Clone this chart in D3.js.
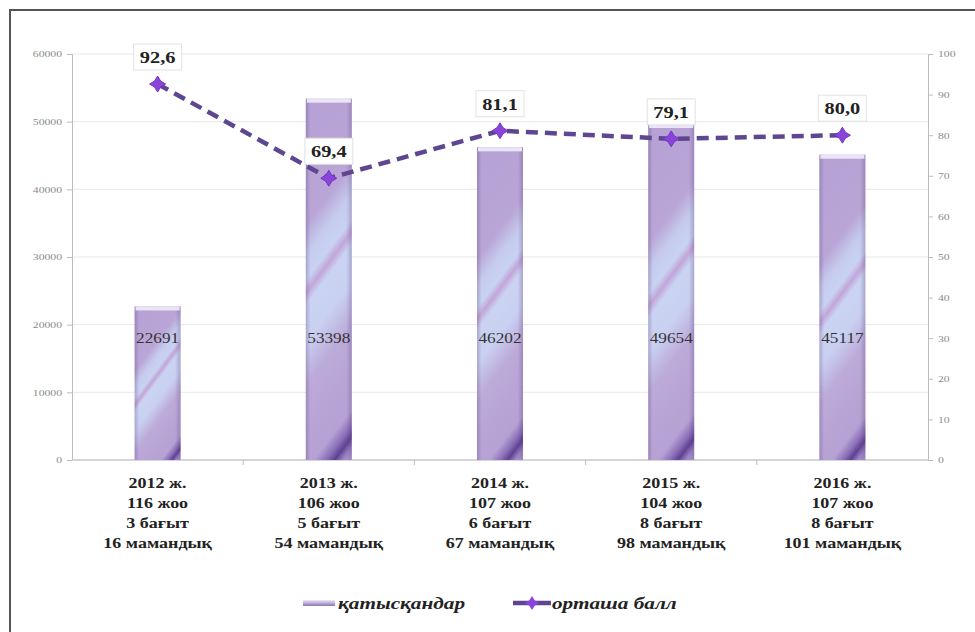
<!DOCTYPE html>
<html>
<head>
<meta charset="utf-8">
<script src="https://cdn.jsdelivr.net/npm/d3@7"></script>
<style>
  body { margin: 0; background: #fff; }
  svg { display: block; font-family: "Liberation Serif", "Times New Roman", serif; }
</style>
</head>
<body>
<script>
// data
var years = ["2012 ж.", "2013 ж.", "2014 ж.", "2015 ж.", "2016 ж."];
var universities = ["116 жоо", "106 жоо", "107 жоо", "104 жоо", "107 жоо"];
var directions = ["3 бағыт", "5 бағыт", "6 бағыт", "8 бағыт", "8 бағыт"];
var specialties = ["16 мамандық", "54 мамандық", "67 мамандық", "98 мамандық", "101 мамандық"];
var participants = [22691, 53398, 46202, 49654, 45117];
var avgScore = [92.6, 69.4, 81.1, 79.1, 80.0];
var leftTicks = [0, 10000, 20000, 30000, 40000, 50000, 60000];
var rightTicks = [0, 10, 20, 30, 40, 50, 60, 70, 80, 90, 100];
var legendNames = ["қатысқандар", "орташа балл"];

var W = 975, H = 632;
var plot = {left: 72, right: 928, top: 54, bottom: 460};
var SX = 1.22; // the source text is drawn wide

var svg = d3.select("body").append("svg")
  .attr("width", W)
  .attr("height", H);

// outer frame
svg.append("rect")
  .attr("x", 10).attr("y", 10)
  .attr("width", W + 20).attr("height", H + 20)
  .style("fill", "none")
  .style("stroke", "#555")
  .style("stroke-width", 2);

var defs = svg.append("defs");

// scales
var x = d3.scaleBand().domain(years).range([plot.left, plot.right]);
var yL = d3.scaleLinear().domain([0, 60000]).range([plot.bottom, plot.top]);
var yR = d3.scaleLinear().domain([0, 100]).range([plot.bottom, plot.top]);
var mid = function(i) { return x(years[i]) + x.bandwidth() / 2; };

// wide text helper: put the text at (px,py) and stretch it
function wide(sel, px, py, sx) {
  sel.attr("x", 0).attr("y", 0)
    .attr("transform", function(d, i) {
      return "translate(" + px(d, i) + "," + py(d, i) + ") scale(" + (sx || SX) + ",1)";
    });
}

// grid lines
svg.append("g").selectAll("line")
  .data(leftTicks.slice(1))
  .enter().append("line")
  .attr("x1", plot.left).attr("x2", plot.right)
  .attr("y1", function(d) { return yL(d); })
  .attr("y2", function(d) { return yL(d); })
  .style("stroke", "#e8e8e8")
  .style("stroke-width", 1);

// axes
function styleAxis(ax, dx) {
  ax.select(".domain").attr("stroke", "#bdbdbd");
  ax.selectAll(".tick line").attr("stroke", "#bdbdbd");
  ax.selectAll("text")
    .attr("fill", "#8a8a8a")
    .attr("x", dx / 1.3)
    .attr("transform", "scale(1.3,1)")
    .style("font-size", "9px")
    .style("font-family", "'Liberation Serif', serif");
}

var axL = svg.append("g")
  .attr("transform", "translate(" + plot.left + ",0)")
  .call(d3.axisLeft(yL).tickValues(leftTicks).tickFormat(d3.format("d")).tickSize(5).tickPadding(5));
styleAxis(axL, -10);

var axR = svg.append("g")
  .attr("transform", "translate(" + plot.right + ",0)")
  .call(d3.axisRight(yR).tickValues(rightTicks).tickFormat(d3.format("d")).tickSize(5).tickPadding(5));
styleAxis(axR, 10);

// bottom axis line with category ticks
var axB = svg.append("g")
  .attr("transform", "translate(0," + plot.bottom + ")");
axB.append("line")
  .attr("x1", plot.left).attr("x2", plot.right)
  .style("stroke", "#c8c8c8").style("stroke-width", 1.5);
axB.selectAll(".ctick")
  .data(years.slice(1))
  .enter().append("line")
  .attr("x1", function(d) { return x(d); })
  .attr("x2", function(d) { return x(d); })
  .attr("y1", 0).attr("y2", 5)
  .style("stroke", "#bdbdbd");

// bars
var barW = 46;
var diagStops = [[0, "#b5a1d3"], [0.3, "#b9a6d7"], [0.37, "#c6cbee"], [0.43, "#c8d2f1"],
  [0.46, "#c2a5da"], [0.49, "#cad4f2"], [0.58, "#c9d0f1"], [0.68, "#bcaad9"],
  [0.88, "#b5a1d3"], [0.92, "#8a6db8"], [0.945, "#5e4190"], [0.97, "#9a82c4"], [1, "#b7a4d5"]];

participants.forEach(function(d, i) {
  var x0 = mid(i) - barW / 2, y0 = yL(d), h = yL(0) - yL(d);
  var L = 0.8 * barW + 0.6 * h;
  var g = defs.append("linearGradient").attr("id", "bar" + i)
    .attr("gradientUnits", "userSpaceOnUse")
    .attr("x1", x0).attr("y1", y0)
    .attr("x2", x0 + 0.8 * L).attr("y2", y0 + 0.6 * L);
  diagStops.forEach(function(s) { g.append("stop").attr("offset", s[0]).attr("stop-color", s[1]); });
});

var gEdge = defs.append("linearGradient").attr("id", "barEdge")
  .attr("x1", 0).attr("y1", 0).attr("x2", 1).attr("y2", 0);
[[0, 0.3], [0.1, 0.0], [0.88, 0.0], [1, 0.3]].forEach(function(s) {
  gEdge.append("stop").attr("offset", s[0]).attr("stop-color", "#5a4080").attr("stop-opacity", s[1]);
});

var gLeg = defs.append("linearGradient").attr("id", "legBar")
  .attr("x1", 0).attr("y1", 0).attr("x2", 0).attr("y2", 1);
gLeg.append("stop").attr("offset", 0).attr("stop-color", "#efe8f8");
gLeg.append("stop").attr("offset", 1).attr("stop-color", "#8d74b8");

var bars = svg.append("g").selectAll("g.bar")
  .data(participants)
  .enter().append("g").attr("class", "bar");

bars.append("rect")
  .attr("x", function(d, i) { return mid(i) - barW / 2; })
  .attr("y", function(d) { return yL(d); })
  .attr("width", barW)
  .attr("height", function(d) { return yL(0) - yL(d); })
  .style("fill", function(d, i) { return "url(#bar" + i + ")"; });

bars.append("rect")
  .attr("x", function(d, i) { return mid(i) - barW / 2; })
  .attr("y", function(d) { return yL(d); })
  .attr("width", barW)
  .attr("height", function(d) { return yL(0) - yL(d); })
  .style("fill", "url(#barEdge)");

// top cap
bars.append("rect")
  .attr("x", function(d, i) { return mid(i) - barW / 2 + 1; })
  .attr("y", function(d) { return yL(d); })
  .attr("width", barW - 2)
  .attr("height", 4)
  .style("fill", "#ebe3f6");

// value labels inside bars
bars.append("text")
  .call(wide, function(d, i) { return mid(i); }, function() { return yL(18000) + 5; }, 1.15)
  .attr("text-anchor", "middle")
  .style("font-size", "15px")
  .style("fill", "#333")
  .text(function(d) { return d; });

// line
var line = d3.line()
  .x(function(d, i) { return mid(i); })
  .y(function(d) { return yR(d); });

svg.append("path")
  .datum(avgScore)
  .attr("d", line)
  .style("fill", "none")
  .style("stroke", "#5f4690")
  .style("stroke-width", 4.5)
  .style("stroke-dasharray", "12,7");

function starPath(s) {
  var k = s * 0.38;
  return "M0,-" + s + "L" + k + ",-" + k + "L" + s + ",0L" + k + "," + k +
    "L0," + s + "L-" + k + "," + k + "L-" + s + ",0L-" + k + ",-" + k + "Z";
}

svg.append("g").selectAll("path")
  .data(avgScore)
  .enter().append("path")
  .attr("transform", function(d, i) { return "translate(" + mid(i) + "," + yR(d) + ")"; })
  .attr("d", starPath(8))
  .style("fill", "#8a44dc")
  .style("stroke", "#7436c4")
  .style("stroke-width", 1);

// line labels
var fmt = function(d) { return d.toFixed(1).replace(".", ","); };
var labels = svg.append("g").selectAll("g")
  .data(avgScore)
  .enter().append("g")
  .attr("transform", function(d, i) { return "translate(" + mid(i) + "," + (yR(d) - 27) + ")"; });

labels.append("rect")
  .attr("x", -24).attr("y", -13)
  .attr("width", 48).attr("height", 26)
  .style("fill", "#fff")
  .style("stroke", "#e2e2e2");

labels.append("text")
  .call(wide, function() { return 0; }, function() { return 6; }, 1.2)
  .attr("text-anchor", "middle")
  .style("font-size", "17px")
  .style("font-weight", "bold")
  .style("fill", "#222")
  .text(fmt);

// category labels
var catRows = years.map(function(d, i) {
  return [years[i], universities[i], directions[i], specialties[i]];
});
var cat = svg.append("g").selectAll("g")
  .data(catRows)
  .enter().append("g");

cat.selectAll("text")
  .data(function(rows, i) { return rows.map(function(r, k) { return {t: r, i: i, k: k}; }); })
  .enter().append("text")
  .call(wide, function(d) { return mid(d.i); }, function(d) { return 488 + d.k * 20; }, 1.2)
  .attr("text-anchor", "middle")
  .style("font-size", "15px")
  .style("font-weight", "bold")
  .style("fill", "#222")
  .text(function(d) { return d.t; });

// legend
var leg = svg.append("g");
leg.append("rect")
  .attr("x", 303).attr("y", 600)
  .attr("width", 32).attr("height", 6)
  .style("fill", "url(#legBar)");
leg.append("line")
  .attr("x1", 513).attr("x2", 551)
  .attr("y1", 603).attr("y2", 603)
  .style("stroke", "#5f4690")
  .style("stroke-width", 4.5);
leg.append("path")
  .attr("transform", "translate(532,603)")
  .attr("d", starPath(7))
  .style("fill", "#8a44dc");

leg.selectAll("text")
  .data(legendNames)
  .enter().append("text")
  .call(wide, function(d, i) { return i === 0 ? 338 : 552; }, function() { return 609; }, 1.25)
  .style("font-size", "17px")
  .style("font-style", "italic")
  .style("font-weight", "bold")
  .style("fill", "#222")
  .text(function(d) { return d; });
</script>
</body>
</html>
